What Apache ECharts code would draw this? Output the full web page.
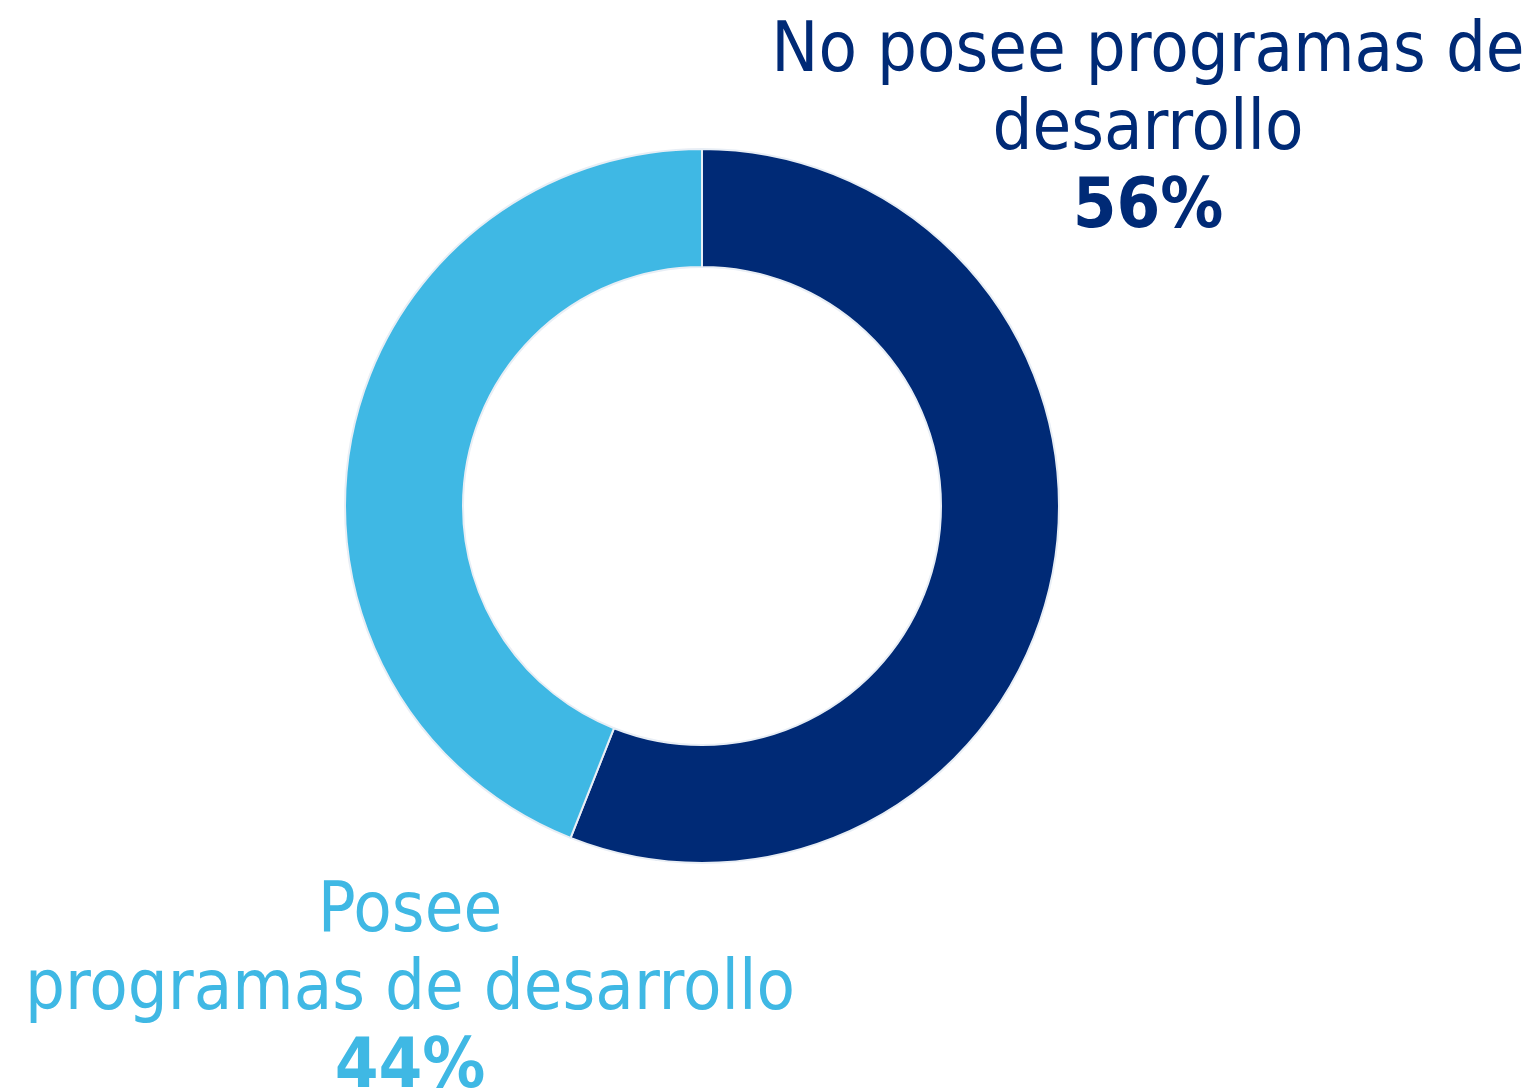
<!DOCTYPE html>
<html>
<head>
<meta charset="utf-8">
<script src="https://cdn.jsdelivr.net/npm/echarts@6/dist/echarts.min.js"></script>
<style>
  html, body { margin: 0; padding: 0; background: #fff; }
  #chart { width: 1527px; height: 1089px; }
</style>
</head>
<body>
<div id="chart"></div>
<script>
var categories = ['No posee programas de\ndesarrollo', 'Posee\nprogramas de desarrollo'];
var values = [56, 44];
var colors = ['#002A76', '#3FB8E4'];

var FONT = "'DejaVu Sans Condensed', 'Liberation Sans Narrow', sans-serif";

var dom = document.getElementById('chart');
var myChart = echarts.init(dom);

function labelText(i) {
    return '{n|' + categories[i].split('\n').join('}\n{n|') + '}\n{p|' + values[i] + '%}';
}

function labelGraphic(i, x, y) {
    return {
        type: 'text',
        x: x,
        y: y,
        style: {
            text: labelText(i),
            align: 'center',
            verticalAlign: 'top',
            rich: {
                n: { fontFamily: FONT, fontSize: 70, lineHeight: 78, fill: colors[i], align: 'center' },
                p: { fontFamily: FONT, fontSize: 70, fontWeight: 'bold', lineHeight: 78, fill: colors[i], align: 'center' }
            }
        }
    };
}

var option = {
    animation: false,
    series: [
        {
            type: 'pie',
            center: [702, 506],
            radius: [239, 357],
            startAngle: 90,
            clockwise: true,
            label: { show: false },
            labelLine: { show: false },
            itemStyle: { borderColor: '#e8eef5', borderWidth: 2 },
            data: categories.map(function (c, i) {
                return { name: c, value: values[i], itemStyle: { color: colors[i] } };
            })
        }
    ],
    graphic: [
        labelGraphic(0, 1148, 14),
        labelGraphic(1, 410, 874)
    ]
};

myChart.setOption(option);
</script>
</body>
</html>
